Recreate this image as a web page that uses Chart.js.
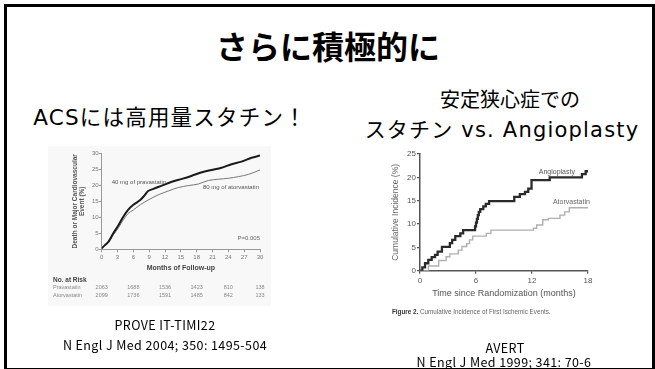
<!DOCTYPE html>
<html>
<head>
<meta charset="utf-8">
<script src="https://cdn.jsdelivr.net/npm/chart.js@4.4.1/dist/chart.umd.min.js"></script>
<style>
  html, body { margin: 0; padding: 0; background: #fff; }
  body { width: 655px; height: 369px; position: relative; overflow: hidden;
         font-family: "Noto Sans CJK JP", "Noto Sans", sans-serif; color: #000; }
  .frame { position: absolute; left: 4px; top: 4px; width: 645px; height: 361px;
           border: 3px solid #000; }
  .t { position: absolute; white-space: nowrap; line-height: 1; transform: translate(-50%, -50%); }
  .w { font-family: "DejaVu Sans", "Noto Sans CJK JP", sans-serif; letter-spacing: 1.2px; }
  .ref { font-family: "Noto Sans CJK JP", sans-serif; font-size: 12.5px; letter-spacing: 0.4px; }
  .fig { position: absolute; filter: blur(0.35px); }
  .panelL { position: absolute; left: 48px; top: 146px; width: 223px; height: 160px; background: #f8f8f8; }
  .caption { position: absolute; left: 392px; top: 308px; font: 6.3px "Liberation Sans", Arial, sans-serif;
             color: #666; white-space: nowrap; filter: blur(0.3px); }
  .caption b { color: #333; }
</style>
</head>
<body>
<div class="frame"></div>

<div class="t" style="left:328px;top:45px;font-size:32px;font-weight:bold;">さらに積極的に</div>
<div class="t w" style="left:170px;top:118px;font-size:21.5px;">ACSには高用量スタチン！</div>
<div class="t" style="left:510px;top:99px;font-size:20px;">安定狭心症での</div>
<div class="t w" style="left:502px;top:130px;font-size:21px;">スタチン vs. Angioplasty</div>

<div class="panelL"></div>
<div class="fig" style="left:50px;top:147px;width:220px;height:153px;"><canvas id="left" width="220" height="153"></canvas></div>
<div class="fig" style="left:385px;top:148px;width:215px;height:170px;"><canvas id="right" width="215" height="170"></canvas></div>
<div class="caption"><b>Figure 2.</b> Cumulative Incidence of First Ischemic Events.</div>

<div class="t ref" style="left:165px;top:325px;">PROVE IT-TIMI22</div>
<div class="t ref" style="left:165px;top:345px;">N Engl J Med 2004; 350: 1495-504</div>
<div class="t ref" style="left:505px;top:348px;">AVERT</div>
<div class="t ref" style="left:504px;top:362px;">N Engl J Med 1999; 341: 70-6</div>

<script>
// PROVE IT-TIMI 22: death or major cardiovascular event (%) by months of follow-up
const pravaMonths = [0, 0.6, 1.3, 2.2, 3.2, 4.1, 5.0, 6.0, 7.3, 8.2, 8.8, 9.8, 11.4, 13.3, 15.2, 17.1, 19.0, 20.8, 22.7, 24.6, 26.5, 28.4, 30];
const pravaRate   = [0.3, 1.3, 2.4, 5.0, 7.6, 10.2, 12.3, 13.9, 15.4, 17.0, 18.2, 18.9, 19.9, 21.1, 22.0, 23.0, 24.1, 24.8, 25.5, 26.6, 27.4, 28.6, 29.3];
const atorvaMonths = [0, 1.3, 2.2, 3.2, 4.1, 5.0, 6.0, 7.3, 8.8, 10.7, 12.6, 14.5, 16.4, 18.3, 20.2, 22.1, 24.0, 25.9, 27.8, 30];
const atorvaRate   = [0.3, 2.1, 4.5, 6.8, 9.2, 11.2, 12.3, 13.9, 15.4, 17.0, 18.2, 19.3, 19.9, 20.4, 21.5, 21.9, 22.2, 22.7, 23.4, 24.8];
const followUpTicks = [0, 3, 6, 9, 12, 15, 18, 21, 24, 27, 30];

// Number at risk
const riskMonths = [0, 6, 12, 18, 24, 30];
const riskPrava  = [2063, 1688, 1536, 1423, 810, 138];
const riskAtorva = [2099, 1736, 1591, 1485, 842, 133];

// AVERT: cumulative incidence of first ischemic events (%), step times in months
const angioMonths = [0, 0.25, 0.54, 0.89, 1.25, 1.61, 1.89, 2.35, 3.2, 3.45, 3.78, 4.32, 4.62, 5.9, 6.0, 6.1, 6.2, 6.3, 6.45, 6.78, 7.05, 7.4, 10.1, 10.7, 11.25, 11.6, 11.95, 13.9, 17.35, 17.75, 18];
const angioRate   = [0, 0.7, 1.6, 2.3, 2.9, 3.4, 4.1, 5.1, 5.9, 6.6, 7.4, 8.0, 8.7, 9.5, 10.3, 11.1, 11.9, 12.6, 13.2, 13.8, 14.3, 14.9, 15.8, 16.4, 16.9, 17.6, 19.4, 20.0, 20.7, 21.3, 21.3];
const atorMonths  = [0, 0.9, 2.0, 2.8, 3.2, 4.1, 4.5, 5.0, 5.3, 5.65, 7.1, 7.6, 12.15, 12.5, 13.15, 13.75, 15.0, 15.5, 16.0, 18];
const atorRate    = [0, 1.0, 2.2, 3.0, 3.6, 4.4, 5.2, 5.8, 6.6, 7.4, 8.0, 8.7, 9.1, 9.8, 10.9, 11.2, 11.9, 12.6, 13.5, 13.5];
const randomizationTicks = [0, 6, 12, 18];

const pts = (xs, ys) => xs.map((x, i) => ({ x: x, y: ys[i] }));

// Draws series names and other notes anchored to data coordinates
const inlineLabels = {
  id: 'inlineLabels',
  afterDatasetsDraw(chart, args, opts) {
    const { ctx, scales: { x, y } } = chart;
    ctx.save();
    (opts.items || []).forEach(it => {
      ctx.font = it.font;
      ctx.fillStyle = it.color;
      ctx.textAlign = it.align || 'left';
      ctx.textBaseline = 'middle';
      ctx.fillText(it.text, x.getPixelForValue(it.x), y.getPixelForValue(it.y));
    });
    ctx.restore();
  }
};

// Number-at-risk table under the follow-up axis
const riskTable = {
  id: 'riskTable',
  afterDraw(chart, args, opts) {
    if (!opts.rows) return;
    const { ctx, scales: { x } } = chart;
    ctx.save();
    ctx.textBaseline = 'middle';
    ctx.font = 'bold 6.5px "Liberation Sans", Arial, sans-serif';
    ctx.fillStyle = '#444';
    ctx.textAlign = 'left';
    ctx.fillText(opts.heading, 3, opts.top);
    opts.rows.forEach((row, r) => {
      const yy = opts.top + 7.5 * (r + 1);
      ctx.font = '5.5px "Liberation Sans", Arial, sans-serif';
      ctx.fillStyle = '#888';
      ctx.textAlign = 'left';
      ctx.fillText(row.name, 3, yy);
      ctx.textAlign = 'center';
      row.values.forEach((v, i) => ctx.fillText(String(v), x.getPixelForValue(opts.months[i]), yy));
    });
    ctx.restore();
  }
};

const axisFont = 'Liberation Sans';

new Chart(document.getElementById('left'), {
  type: 'line',
  data: {
    datasets: [
      { label: '40 mg of pravastatin', data: pts(pravaMonths, pravaRate), borderColor: '#1a1a1a', borderWidth: 2, pointRadius: 0, tension: 0.3, fill: false },
      { label: '80 mg of atorvastatin', data: pts(atorvaMonths, atorvaRate), borderColor: '#777', borderWidth: 1, pointRadius: 0, tension: 0.3, fill: false }
    ]
  },
  options: {
    responsive: false, animation: false, devicePixelRatio: 1,
    layout: { padding: { left: 0, right: 10, top: 6.3, bottom: 0 } },
    plugins: {
      legend: { display: false }, tooltip: { enabled: false },
      inlineLabels: { items: [
        { text: '40 mg of pravastatin', x: 1.9, y: 20.9, font: '6px "Liberation Sans", Arial, sans-serif', color: '#555' },
        { text: '80 mg of atorvastatin', x: 19.2, y: 19.4, font: '6px "Liberation Sans", Arial, sans-serif', color: '#555' },
        { text: 'P=0.005', x: 30, y: 3.3, align: 'right', font: '6px "Liberation Sans", Arial, sans-serif', color: '#666' }
      ] },
      riskTable: { heading: 'No. at Risk', top: 133, months: riskMonths,
        rows: [ { name: 'Pravastatin', values: riskPrava }, { name: 'Atorvastatin', values: riskAtorva } ] }
    },
    scales: {
      x: {
        type: 'linear', min: 0, max: 30,
        afterBuildTicks: s => { s.ticks = followUpTicks.map(v => ({ value: v })); },
        ticks: { font: { family: axisFont, size: 6 }, color: '#777', padding: 1, maxRotation: 0 },
        grid: { drawOnChartArea: false, drawTicks: true, tickLength: 3, color: '#999' },
        border: { display: true, color: '#999', width: 1 },
        title: { display: true, text: 'Months of Follow-up', color: '#444',
                 font: { family: axisFont, size: 7, weight: 'bold', lineHeight: 1.2 }, padding: { top: 0, bottom: 27.8 } },
        afterFit: s => { s.height = 50.7; }
      },
      y: {
        min: 0, max: 30,
        ticks: { stepSize: 5, font: { family: axisFont, size: 6 }, color: '#777', padding: 0 },
        grid: { drawOnChartArea: false, drawTicks: true, tickLength: 3, color: '#999' },
        border: { display: true, color: '#999', width: 1 },
        title: { display: true, text: ['Death or Major Cardiovascular', 'Event (%)'], color: '#555',
                 font: { family: axisFont, size: 6.5, weight: 'bold', lineHeight: 1.1 }, padding: { top: 21.4, bottom: 0 } },
        afterFit: s => { s.width = 51.7; }
      }
    }
  },
  plugins: [inlineLabels, riskTable]
});

new Chart(document.getElementById('right'), {
  type: 'line',
  data: {
    datasets: [
      { label: 'Angioplasty', data: pts(angioMonths, angioRate), stepped: 'before', borderColor: '#2a2a2a', borderWidth: 2.3, pointRadius: 0, fill: false },
      { label: 'Atorvastatin', data: pts(atorMonths, atorRate), stepped: 'before', borderColor: '#b0b0b0', borderWidth: 1.4, pointRadius: 0, fill: false }
    ]
  },
  options: {
    responsive: false, animation: false, devicePixelRatio: 1,
    layout: { padding: { left: 0, right: 12, top: 6, bottom: 0 } },
    plugins: {
      legend: { display: false }, tooltip: { enabled: false },
      inlineLabels: { items: [
        { text: 'Angioplasty', x: 16.6, y: 21.2, align: 'right', font: '7px "Liberation Sans", Arial, sans-serif', color: '#555' },
        { text: 'Atorvastatin', x: 18.2, y: 14.8, align: 'right', font: '7px "Liberation Sans", Arial, sans-serif', color: '#666' }
      ] }
    },
    scales: {
      x: {
        type: 'linear', min: 0, max: 18,
        afterBuildTicks: s => { s.ticks = randomizationTicks.map(v => ({ value: v })); },
        ticks: { font: { family: axisFont, size: 8 }, color: '#555', padding: 2, maxRotation: 0 },
        grid: { drawOnChartArea: false, drawTicks: true, tickLength: 3, color: '#555', lineWidth: 1.2 },
        border: { display: true, color: '#555', width: 1.5 },
        title: { display: true, text: 'Time since Randomization (months)', color: '#555',
                 font: { family: axisFont, size: 9, lineHeight: 1.2 }, padding: { top: 0, bottom: 18.6 } },
        afterFit: s => { s.height = 47.3; }
      },
      y: {
        min: 0, max: 25,
        ticks: { stepSize: 5, font: { family: axisFont, size: 8 }, color: '#555', padding: 1 },
        grid: { drawOnChartArea: false, drawTicks: true, tickLength: 3, color: '#555', lineWidth: 1.2 },
        border: { display: true, color: '#555', width: 1.5 },
        title: { display: true, text: 'Cumulative Incidence (%)', color: '#666',
                 font: { family: axisFont, size: 8.5, lineHeight: 1.2 }, padding: { top: 5.9, bottom: 0 } },
        afterFit: s => { s.width = 35; }
      }
    }
  },
  plugins: [inlineLabels]
});
</script>
</body>
</html>
